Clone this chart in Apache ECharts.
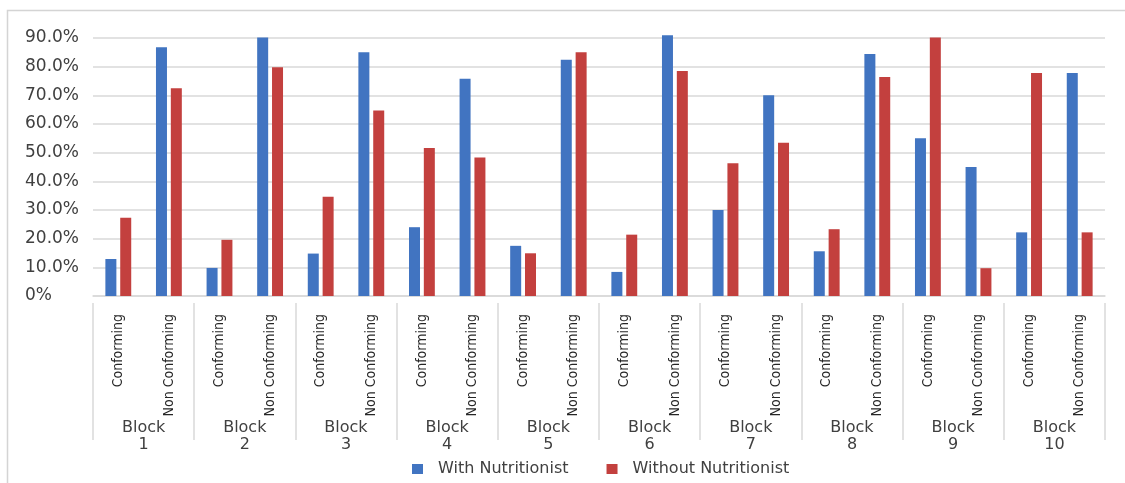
<!DOCTYPE html>
<html>
<head>
<meta charset="utf-8">
<title>Conforming vs Non Conforming by Block</title>
<script src="https://cdn.jsdelivr.net/npm/echarts@6/dist/echarts.min.js"></script>
<style>
  html, body { margin: 0; padding: 0; background: #ffffff; }
  #chart { width: 1125px; height: 483px; }
</style>
</head>
<body>
<div id="chart"></div>
<script>
// Blocks and the two outcome columns inside each block
const blocks = ['1', '2', '3', '4', '5', '6', '7', '8', '9', '10'];
const outcomes = ['Conforming', 'Non Conforming'];

// Share of each outcome (percent), block by block: Conforming, Non Conforming
const withNutritionist = [
  12.9, 86.8,
  9.8, 90.2,
  14.8, 85.0,
  24.0, 75.8,
  17.5, 82.4,
  8.4, 91.0,
  30.0, 70.0,
  15.6, 84.4,
  55.0, 45.0,
  22.2, 77.8
];
const withoutNutritionist = [
  27.3, 72.5,
  19.6, 79.8,
  34.6, 64.7,
  51.6, 48.3,
  14.9, 85.0,
  21.4, 78.5,
  46.3, 53.5,
  23.3, 76.4,
  90.2, 9.7,
  77.8, 22.2
];

// Y axis ticks (percent)
const yMin = 0, yMax = 90, yStep = 10;

const seriesNames = ['With Nutritionist', 'Without Nutritionist'];

// One category per block/outcome pair
const categories = [];
blocks.forEach(() => outcomes.forEach(o => categories.push(o)));

const chart = echarts.init(document.getElementById('chart'), null, { renderer: 'canvas' });

const labelFont = '"DejaVu Sans", Verdana, sans-serif';
const narrowFont = '"DejaVu Sans Condensed", "Liberation Sans Narrow", sans-serif';

chart.setOption({
  animation: false,
  backgroundColor: '#ffffff',
  graphic: [
    {
      type: 'polyline',
      silent: true,
      shape: { points: [[7.5, 483], [7.5, 10.5], [1125, 10.5]] },
      style: { stroke: '#d4d4d4', lineWidth: 1.5, fill: null }
    }
  ],
  grid: { left: 93, right: 20, top: 38, bottom: 187, containLabel: false },
  legend: {
    left: 407,
    top: 456,
    itemWidth: 11,
    itemHeight: 10,
    itemGap: 38,
    icon: 'rect',
    textStyle: {
      fontFamily: labelFont,
      fontSize: 16,
      color: '#404040',
      padding: [0, 0, 0, 10]
    },
    data: seriesNames
  },
  xAxis: [
    {
      type: 'category',
      data: categories,
      axisLine: { show: true, lineStyle: { color: '#d9d9d9', width: 1.5 } },
      axisTick: { show: false },
      axisLabel: {
        rotate: 90,
        margin: 18,
        interval: 0,
        fontFamily: narrowFont,
        fontSize: 14,
        color: '#262626'
      }
    },
    {
      type: 'category',
      data: blocks.map(b => 'Block\n' + b),
      position: 'bottom',
      offset: 144,
      axisLine: { show: false },
      axisTick: {
        show: true,
        inside: true,
        length: 137,
        lineStyle: { color: '#d9d9d9', width: 1.5 }
      },
      axisLabel: {
        margin: -21,
        interval: 0,
        fontFamily: labelFont,
        fontSize: 16,
        lineHeight: 17,
        color: '#404040'
      }
    }
  ],
  yAxis: {
    type: 'value',
    min: yMin,
    max: yMax,
    interval: yStep,
    axisLine: { show: false },
    axisTick: { show: false },
    splitLine: { show: true, lineStyle: { color: '#d9d9d9', width: 1.5 } },
    axisLabel: {
      margin: 68,
      align: 'left',
      fontFamily: labelFont,
      fontSize: 17,
      color: '#404040',
      formatter: v => (v === 0 ? '0%' : v.toFixed(1) + '%')
    }
  },
  series: [
    {
      name: seriesNames[0],
      type: 'bar',
      xAxisIndex: 0,
      data: withNutritionist,
      barWidth: 11,
      barGap: '35%',
      clip: false,
      itemStyle: { color: '#4174c1' }
    },
    {
      name: seriesNames[1],
      type: 'bar',
      xAxisIndex: 0,
      data: withoutNutritionist,
      barWidth: 11,
      barGap: '35%',
      clip: false,
      itemStyle: { color: '#c3403e' }
    }
  ]
});
</script>
</body>
</html>
